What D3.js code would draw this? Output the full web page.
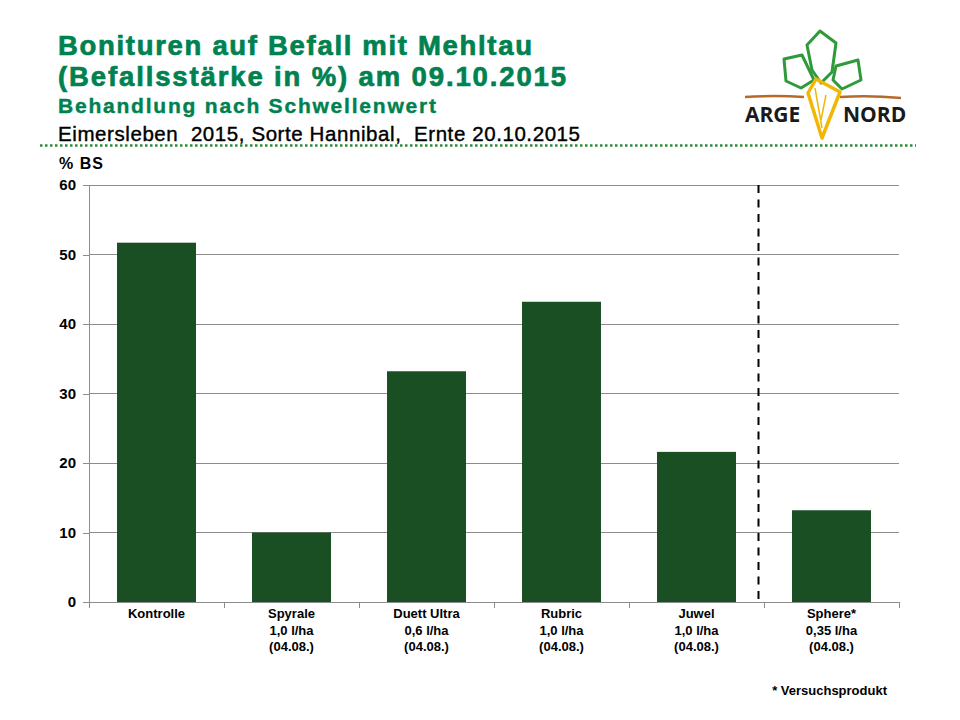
<!DOCTYPE html>
<html><head><meta charset="utf-8">
<script src="https://cdn.jsdelivr.net/npm/d3@7"></script>
<style>
html,body{margin:0;padding:0;background:#fff;}
svg{display:block;font-family:"Liberation Sans",Arial,sans-serif;}
</style></head>
<body>
<svg id="chart" width="960" height="720"></svg>
<script>
const categories = ["Kontrolle","Spyrale","Duett Ultra","Rubric","Juwel","Sphere*"];
const doses = ["","1,0 l/ha","0,6 l/ha","1,0 l/ha","1,0 l/ha","0,35 l/ha"];
const dates = ["","(04.08.)","(04.08.)","(04.08.)","(04.08.)","(04.08.)"];
const values = [51.7, 10.0, 33.2, 43.2, 21.6, 13.2];
const yTicks = [0,10,20,30,40,50,60];
const titleLines = ["Bonituren auf Befall mit Mehltau","(Befallsstärke in %) am 09.10.2015"];
const subtitle = "Behandlung nach Schwellenwert";
const infoLine = "Eimersleben  2015, Sorte Hannibal,  Ernte 20.10.2015";
const yLabel = "% BS";
const footnote = "* Versuchsprodukt";
const separatorBefore = "Sphere*";

const svg = d3.select("#chart");
const green = "#008150";
const barColor = "#1a4f24";

// Titles
svg.append("text").attr("x",58).attr("y",55).attr("fill",green)
  .attr("stroke",green).attr("stroke-width",0.7)
  .attr("font-size",27.5).attr("font-weight","bold")
  .attr("textLength",474).attr("lengthAdjust","spacing").text(titleLines[0]);
svg.append("text").attr("x",58).attr("y",86).attr("fill",green)
  .attr("stroke",green).attr("stroke-width",0.7)
  .attr("font-size",27.5).attr("font-weight","bold")
  .attr("textLength",508).attr("lengthAdjust","spacing").text(titleLines[1]);
svg.append("text").attr("x",58).attr("y",113).attr("fill",green)
  .attr("stroke",green).attr("stroke-width",0.4)
  .attr("font-size",21).attr("font-weight","bold")
  .attr("textLength",378).attr("lengthAdjust","spacing").text(subtitle);
svg.append("text").attr("x",58).attr("y",141).attr("fill","#000")
  .attr("font-size",20.5).attr("stroke","#000").attr("stroke-width",0.4)
  .style("white-space","pre")
  .attr("textLength",522).attr("lengthAdjust","spacing").text(infoLine);

// Dotted line
svg.append("line").attr("x1",40).attr("x2",916).attr("y1",145.5).attr("y2",145.5)
  .attr("stroke","#2e8b3c").attr("stroke-width",2.5).attr("stroke-dasharray","2.5,2.5");

// Logo
const logo = svg.append("g");
logo.append("path").attr("d","M745,97 Q775,95 804,97").attr("stroke","#b8692a").attr("stroke-width",2.5).attr("fill","none");
logo.append("path").attr("d","M840,97 Q870,95 901,98").attr("stroke","#b8692a").attr("stroke-width",2.5).attr("fill","none");
const leafStroke = "#2e9a3a";
logo.append("path").attr("d","M784,59 L802,55 L814,80 L801,88 L786,81 Z").attr("stroke",leafStroke).attr("stroke-width",3).attr("fill","none").attr("stroke-linejoin","round");
logo.append("path").attr("d","M807,45 L820,31 L836,43 L832,72 L821,83 L812,70 Z").attr("stroke",leafStroke).attr("stroke-width",3).attr("fill","none").attr("stroke-linejoin","round");
logo.append("path").attr("d","M836,66 L858,60 L861,80 L842,89 L833,80 Z").attr("stroke",leafStroke).attr("stroke-width",3).attr("fill","none").attr("stroke-linejoin","round");
logo.append("path").attr("d","M808,93 L816,79 L840,92 L822,138 Z").attr("stroke","#f2b705").attr("stroke-width",3.5).attr("fill","none").attr("stroke-linejoin","round");
logo.append("path").attr("d","M815,88 L822,128 M826,95 L821,120").attr("stroke","#f2b705").attr("stroke-width",1.5).attr("fill","none");
logo.append("text").attr("x",745).attr("y",122).attr("font-size",21).attr("font-weight","bold").attr("fill","#1a1a1a").attr("font-family","'Open Sans',sans-serif").text("ARGE");
logo.append("text").attr("x",843).attr("y",122).attr("font-size",21).attr("font-weight","bold").attr("fill","#1a1a1a").attr("font-family","'Open Sans',sans-serif").text("NORD");

// Scales
const pLeft = 89, pRight = 899, pTop = 185, pBottom = 602;
const xOuter = d3.scaleBand().domain(categories).range([pLeft,pRight]).padding(0);
const xBar = d3.scaleBand().domain(categories).range([pLeft,pRight]).paddingInner(0.415).paddingOuter(0.2075);
const y = d3.scaleLinear().domain([0,60]).range([pBottom,pTop]);

// Gridlines
svg.append("g").selectAll("line").data(yTicks.filter(d=>d>0)).join("line")
  .attr("x1",pLeft).attr("x2",pRight).attr("y1",d=>y(d)).attr("y2",d=>y(d))
  .attr("stroke","#8c8c8c").attr("stroke-width",1).attr("shape-rendering","crispEdges");

// Y axis
const yAxis = svg.append("g").attr("transform",`translate(${pLeft},0)`)
  .call(d3.axisLeft(y).tickValues(yTicks).tickSize(6).tickPadding(7));
yAxis.select(".domain").attr("stroke","#8c8c8c");
yAxis.selectAll(".tick line").attr("stroke","#8c8c8c");
yAxis.selectAll(".tick text").attr("font-size",15).attr("font-weight","bold").attr("fill","#000")
  .attr("font-family","'Liberation Sans',Arial,sans-serif");
yAxis.attr("shape-rendering","crispEdges");

svg.append("text").attr("x",59).attr("y",169).attr("font-size",16).attr("font-weight","bold")
  .attr("textLength",44).attr("lengthAdjust","spacing").text(yLabel);

// Bars
svg.append("g").selectAll("rect").data(categories).join("rect")
  .attr("x",d=>xBar(d)).attr("width",xBar.bandwidth())
  .attr("y",(d,i)=>y(values[i])).attr("height",(d,i)=>y(0)-y(values[i]))
  .attr("fill",barColor);

// X axis line and ticks at band boundaries
svg.append("line").attr("x1",pLeft).attr("x2",pRight).attr("y1",pBottom).attr("y2",pBottom)
  .attr("stroke","#8c8c8c").attr("shape-rendering","crispEdges");
const bounds = categories.map(c=>xOuter(c)).concat([xOuter(categories[categories.length-1])+xOuter.bandwidth()]);
svg.append("g").selectAll("line").data(bounds).join("line")
  .attr("x1",d=>d).attr("x2",d=>d).attr("y1",pBottom).attr("y2",pBottom+6)
  .attr("stroke","#8c8c8c").attr("shape-rendering","crispEdges");

// Category labels
const lab = svg.append("g").attr("font-size",13).attr("font-weight","bold").attr("text-anchor","middle");
categories.forEach((c,i)=>{
  const cx = xOuter(c)+xOuter.bandwidth()/2;
  const lines = [c, doses[i], dates[i]].filter(s=>s);
  lines.forEach((s,j)=>{
    lab.append("text").attr("x",cx).attr("y",618+j*16.5).text(s);
  });
});

// Dashed separator
const sx = xOuter(separatorBefore) - 5.5;
svg.append("line").attr("x1",sx).attr("x2",sx).attr("y1",pTop).attr("y2",pBottom)
  .attr("stroke","#000").attr("stroke-width",2).attr("stroke-dasharray","8,6.5");

// Footnote
svg.append("text").attr("x",887).attr("y",695).attr("text-anchor","end")
  .attr("font-size",13).attr("font-weight","bold").text(footnote);
</script>
</body></html>
